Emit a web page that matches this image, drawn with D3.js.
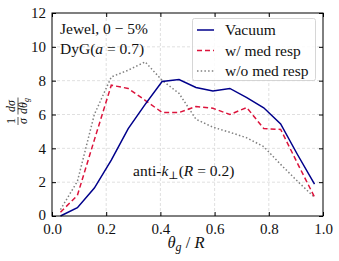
<!DOCTYPE html>
<html><head><meta charset="utf-8">
<script src="https://cdn.jsdelivr.net/npm/d3@7"></script>
<style>
body{margin:0;background:#fff;}
text{font-family:"Liberation Serif","DejaVu Serif",serif;fill:#111;}
</style></head>
<body><svg id="c" width="339" height="261"></svg>
<script>
const thetaG = [0.03125,0.09375,0.15625,0.21875,0.28125,0.34375,0.40625,0.46875,0.53125,0.59375,0.65625,0.71875,0.78125,0.84375,0.90625,0.96875];
const vacuum = [0.0,0.49,1.65,3.3,5.17,6.6,7.95,8.07,7.6,7.39,7.54,7.0,6.4,5.44,3.62,1.89];
const withMed = [0.22,1.22,4.5,7.73,7.54,6.84,6.12,6.12,6.47,6.37,6.0,6.41,5.17,5.12,3.1,1.12];
const withoutMed = [0.38,2.05,6.0,8.22,8.62,9.11,8.02,7.25,5.72,5.25,4.95,4.62,4.1,3.05,2.05,1.1];
const xTicks = [0,0.2,0.4,0.6,0.8,1.0];
const yTicks = [0,2,4,6,8,10,12];
const seriesNames = ["Vacuum","w/ med resp","w/o med resp"];

const svg = d3.select("#c");
const L=52,R=323,T=13,B=216;
const FS = 15.5;
const x = d3.scaleLinear().domain([0,1]).range([L,R]);
const y = d3.scaleLinear().domain([0,12]).range([B,T]);

// grid
const g = svg.append("g");
g.selectAll(".gx").data(xTicks.slice(1,-1)).enter().append("line")
 .attr("x1",d=>x(d)).attr("x2",d=>x(d)).attr("y1",T).attr("y2",B)
 .attr("stroke","#d8d8d8").attr("stroke-width",0.8).attr("stroke-dasharray","3,2");
g.selectAll(".gy").data(yTicks.slice(1,-1)).enter().append("line")
 .attr("y1",d=>y(d)).attr("y2",d=>y(d)).attr("x1",L).attr("x2",R)
 .attr("stroke","#d8d8d8").attr("stroke-width",0.8).attr("stroke-dasharray","3,2");

// lines
const line = d3.line().x((d,i)=>x(thetaG[i])).y(d=>y(d));
svg.append("path").datum(withoutMed).attr("d",line).attr("fill","none")
 .attr("stroke","#808080").attr("stroke-width",1.5).attr("stroke-dasharray","1.5,2.2");
svg.append("path").datum(withMed).attr("d",line).attr("fill","none")
 .attr("stroke","#dc143c").attr("stroke-width",1.5).attr("stroke-dasharray","5,3");
svg.append("path").datum(vacuum).attr("d",line).attr("fill","none")
 .attr("stroke","#00008b").attr("stroke-width",1.5);

// axes (inward ticks all sides)
const ax = (gen, tr) => svg.append("g").attr("transform",tr).call(gen);
const xb = ax(d3.axisBottom(x).tickValues(xTicks).tickFormat(d3.format(".1f")).tickSizeInner(-4).tickSizeOuter(0).tickPadding(7), `translate(0,${B})`);
const xt = ax(d3.axisTop(x).tickValues(xTicks).tickFormat("").tickSizeInner(-4).tickSizeOuter(0), `translate(0,${T})`);
const yl = ax(d3.axisLeft(y).tickValues(yTicks).tickFormat(d3.format("d")).tickSizeInner(-4).tickSizeOuter(0).tickPadding(6), `translate(${L},0)`);
const yr = ax(d3.axisRight(y).tickValues(yTicks).tickFormat("").tickSizeInner(-4).tickSizeOuter(0), `translate(${R},0)`);
[xb,xt,yl,yr].forEach(a=>{a.select(".domain").remove();a.selectAll("line").attr("stroke","#000");
 a.selectAll("text").attr("font-family","Liberation Serif, serif").attr("font-size",15).attr("fill","#111");});
xb.selectAll("text").attr("dy","0.7em");
yl.selectAll("text").filter(d=>d===0).attr("dy","0.2em");
svg.append("rect").attr("x",L).attr("y",T).attr("width",R-L).attr("height",B-T)
 .attr("fill","none").attr("stroke","#000").attr("stroke-width",1);

// annotations
svg.append("text").attr("x",60).attr("y",33.5).attr("font-size",FS).text("Jewel, 0 − 5%");
const t2 = svg.append("text").attr("x",60).attr("y",54).attr("font-size",FS);
t2.append("tspan").text("DyG(");
t2.append("tspan").attr("font-style","italic").text("a");
t2.append("tspan").text(" = 0.7)");
const t3 = svg.append("text").attr("x",133).attr("y",176).attr("font-size",FS);
t3.append("tspan").text("anti-");
t3.append("tspan").attr("font-style","italic").text("k");
t3.append("tspan").attr("font-size",11).attr("dy",3).text("⊥");
t3.append("tspan").attr("dy",-3).text("(");
t3.append("tspan").attr("font-style","italic").text("R");
t3.append("tspan").text(" = 0.2)");

// x title
const xtit = svg.append("text").attr("x",186).attr("y",248).attr("text-anchor","middle").attr("font-size",16.5);
xtit.append("tspan").attr("font-style","italic").text("θ");
xtit.append("tspan").attr("font-style","italic").attr("font-size",12).attr("dy",3).text("g");
xtit.append("tspan").attr("dy",-3).text(" / ");
xtit.append("tspan").attr("font-style","italic").text("R");

// y title (rotated fraction)
const yg = svg.append("g").attr("transform","translate(18,112) rotate(-90)");
yg.append("text").attr("x",-9).attr("y",-3).attr("text-anchor","middle").attr("font-size",12).text("1");
yg.append("line").attr("x1",-13).attr("x2",-5).attr("y1",0).attr("y2",0).attr("stroke","#111").attr("stroke-width",0.7);
yg.append("text").attr("x",-9).attr("y",9).attr("text-anchor","middle").attr("font-size",12).attr("font-style","italic").text("σ");
yg.append("text").attr("x",6).attr("y",-3).attr("text-anchor","middle").attr("font-size",12).attr("font-style","italic").text("dσ");
yg.append("line").attr("x1",-2.5).attr("x2",14.5).attr("y1",0).attr("y2",0).attr("stroke","#111").attr("stroke-width",0.7);
const d2 = yg.append("text").attr("x",6).attr("y",9).attr("text-anchor","middle").attr("font-size",12).attr("font-style","italic");
d2.append("tspan").text("dθ");
d2.append("tspan").attr("font-size",8).attr("dy",2).text("g");

// legend
const lg = svg.append("g");
lg.append("rect").attr("x",192.5).attr("y",18.5).attr("width",123).attr("height",62).attr("rx",2)
 .attr("fill","#fff").attr("fill-opacity",0.85).attr("stroke","#ccc").attr("stroke-width",0.8);
const lstyles = [{c:"#00008b",d:null},{c:"#dc143c",d:"5,3"},{c:"#808080",d:"1.5,2.2"}];
seriesNames.forEach((n,i)=>{
  const yy = 30 + i*20.5;
  lg.append("line").attr("x1",197).attr("x2",214).attr("y1",yy).attr("y2",yy)
    .attr("stroke",lstyles[i].c).attr("stroke-width",1.5).attr("stroke-dasharray",lstyles[i].d);
  lg.append("text").attr("x",225).attr("y",yy+5).attr("font-size",FS).text(n);
});
</script></body></html>
